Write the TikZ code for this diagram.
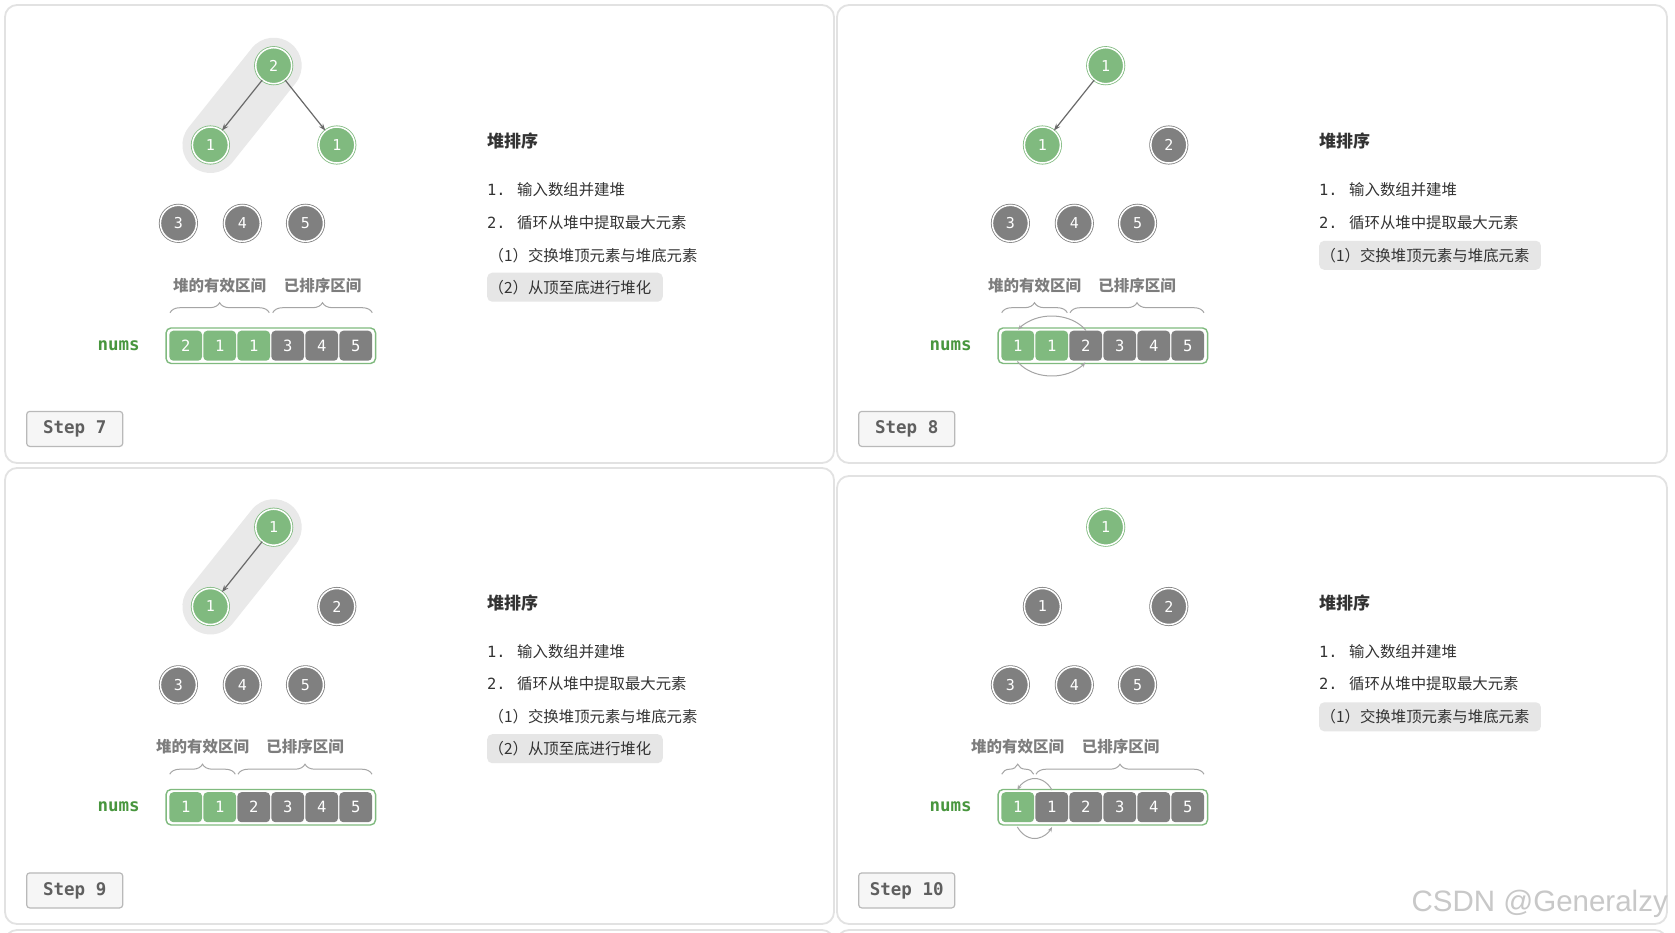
\documentclass[tikz,border=0pt]{standalone}
\usepackage{fontspec}
\usetikzlibrary{arrows.meta,decorations.pathreplacing,calc}
\newfontfamily\cjk{Noto Sans CJK SC}
\newfontfamily\mono{DejaVu Sans Mono}
\newfontfamily\wmfont{Liberation Sans}
\definecolor{hgreen}{RGB}{128,186,127}
\definecolor{hgray}{RGB}{128,128,128}
\definecolor{numsgreen}{RGB}{72,150,62}
\definecolor{panelline}{RGB}{226,226,226}
\definecolor{capsulecol}{RGB}{233,233,233}
\definecolor{hlbox}{RGB}{230,230,230}
\definecolor{textdark}{RGB}{51,51,51}
\definecolor{labelgray}{RGB}{125,125,125}
\definecolor{bracegray}{RGB}{165,165,165}
\definecolor{edgegray}{RGB}{105,105,105}
\definecolor{stepborder}{RGB}{185,185,185}
\definecolor{stepfill}{RGB}{246,246,246}
\definecolor{steptext}{RGB}{95,95,95}
\definecolor{wmgray}{RGB}{200,200,200}
\tikzset{
  panel/.style={draw=panelline, line width=1.8pt, rounded corners=12pt},
  gnode/.style={circle, minimum size=36pt, inner sep=0pt, fill=hgreen, draw=hgreen,
    double=white, double distance=1.5pt, line width=0.8pt, text=white,
    font=\mono\fontsize{15}{15}\selectfont},
  dnode/.style={gnode, fill=hgray, draw=hgray},
  treeedge/.style={draw=edgegray, line width=1.2pt, -{Stealth[length=7pt,width=5pt]}},
  capsuleline/.style={line width=56pt, line cap=round, draw=capsulecol},
  gcell/.style={rectangle, rounded corners=4pt, minimum width=32.7pt, minimum height=30pt,
    inner sep=0pt, fill=hgreen, text=white, font=\mono\fontsize{15.5}{15.5}\selectfont},
  dcell/.style={gcell, fill=hgray},
  arrbox/.style={draw=hgreen, line width=1.4pt, rounded corners=5pt, minimum width=209.5pt,
    minimum height=35.5pt, inner sep=0pt},
  numslabel/.style={text=numsgreen, font=\mono\bfseries\fontsize{17.5}{17.5}\selectfont, inner sep=0pt},
  bracestyle/.style={draw=bracegray, line width=1pt, decorate, decoration={brace, amplitude=10pt}},
  bracelabel/.style={text=labelgray, font=\cjk\bfseries\fontsize{15.5}{15.5}\selectfont, inner sep=0pt},
  swaparc/.style={draw=bracegray, line width=1pt, -{Stealth[length=5pt,width=4pt]}},
  titlestyle/.style={anchor=west, inner sep=0pt, text=textdark, font=\cjk\bfseries\fontsize{17}{17}\selectfont},
  itemstyle/.style={anchor=west, inner sep=0pt, text=textdark, font=\cjk\fontsize{15.4}{15.4}\selectfont},
  hlitem/.style={itemstyle, fill=hlbox, rounded corners=5pt, minimum height=29pt, inner xsep=1.5pt},
  stepbox/.style={rectangle, rounded corners=3pt, draw=stepborder, fill=stepfill, line width=1.2pt,
    minimum width=96pt, minimum height=35pt, inner sep=0pt, text=steptext,
    font=\mono\bfseries\fontsize{17.5}{17.5}\selectfont},
}
\begin{document}
\begin{tikzpicture}[x=1pt,y=-1pt]
\useasboundingbox (0,0) rectangle (1675,932);
\clip (0,0) rectangle (1675,932);
\fill[white] (0,0) rectangle (1675,932);
% panel frames
\draw[panel] (5,5) rectangle (834,463);
\draw[panel] (837,5) rectangle (1667,463);
\draw[panel] (5,468) rectangle (834,924);
\draw[panel] (837,476) rectangle (1667,924);
\draw[panel] (5,930) rectangle (834,1000);
\draw[panel] (837,930) rectangle (1667,1000);

% ================= Panel 1 (Step 7) =================
\begin{scope}
\coordinate (aR) at (273.7,65.7);
\coordinate (aL) at (210.4,145);
\draw[capsuleline] (aR) -- (aL);
\node[gnode] (aRn) at (aR) {2};
\node[gnode] (aLn) at (aL) {1};
\node[gnode] (aRt) at (336.8,145) {1};
\node[dnode] (aA) at (178.4,223.3) {3};
\node[dnode] (aB) at (242.3,223.3) {4};
\node[dnode] (aC) at (305.5,223.3) {5};
\draw[treeedge] (aRn) -- (aLn);
\draw[treeedge] (aRn) -- (aRt);
\node[bracelabel] (alab1) at (219.6,285.5) {堆的有效区间};
\node[bracelabel] (alab2) at (322.5,285.5) {已排序区间};
\draw[bracestyle] (170,312.7) -- (269.3,312.7);
\draw[bracestyle] (272.7,312.7) -- (372.3,312.7);
\node[numslabel] (anums) at (118.7,345.7) {nums};
\node[arrbox] (aArr) at (270.8,345.7) {};
\node[gcell] (ac1) at (185.7,345.7) {2};
\node[gcell] (ac2) at (219.7,345.7) {1};
\node[gcell] (ac3) at (253.7,345.7) {1};
\node[dcell] (ac4) at (287.7,345.7) {3};
\node[dcell] (ac5) at (321.7,345.7) {4};
\node[dcell] (ac6) at (355.7,345.7) {5};
\node[titlestyle] (atitle) at (487,141) {堆排序};
\node[itemstyle] (ai1) at (487,190) {\makebox[30pt][l]{\mono 1.}输入数组并建堆};
\node[itemstyle] (ai2) at (487,222.5) {\makebox[30pt][l]{\mono 2.}循环从堆中提取最大元素};
\node[itemstyle] (ai3) at (488.5,255.3) {（1）交换堆顶元素与堆底元素};
\node[hlitem] (ai4) at (487,287.2) {（2）从顶至底进行堆化\kern10pt\mbox{}};
\node[stepbox] (astep) at (74.7,428.9) {Step 7};
\end{scope}

% ================= Panel 2 (Step 8) =================
\begin{scope}[shift={(832,0)}]
\node[gnode] (bRn) at (273.7,65.7) {1};
\node[gnode] (bLn) at (210.4,145) {1};
\node[dnode] (bRt) at (336.8,145) {2};
\node[dnode] (bA) at (178.4,223.3) {3};
\node[dnode] (bB) at (242.3,223.3) {4};
\node[dnode] (bC) at (305.5,223.3) {5};
\draw[treeedge] (bRn) -- (bLn);
\node[bracelabel] (blab1) at (202.5,285.5) {堆的有效区间};
\node[bracelabel] (blab2) at (305,285.5) {已排序区间};
\draw[bracestyle] (169.7,312.7) -- (235.3,312.7);
\draw[bracestyle] (238,312.7) -- (372,312.7);
\node[numslabel] (bnums) at (118.7,345.7) {nums};
\node[arrbox] (bArr) at (270.8,345.7) {};
\node[gcell] (bc1) at (185.7,345.7) {1};
\node[gcell] (bc2) at (219.7,345.7) {1};
\node[dcell] (bc3) at (253.7,345.7) {2};
\node[dcell] (bc4) at (287.7,345.7) {3};
\node[dcell] (bc5) at (321.7,345.7) {4};
\node[dcell] (bc6) at (355.7,345.7) {5};
\coordinate (bS) at (219.7,346);
\draw[swaparc] ([shift={(31:40pt and 30pt)}]bS) arc[start angle=31, end angle=147, x radius=40pt, y radius=30pt];
\draw[swaparc] ([shift={(211:40pt and 30pt)}]bS) arc[start angle=211, end angle=327, x radius=40pt, y radius=30pt];
\node[titlestyle] (btitle) at (487,141) {堆排序};
\node[itemstyle] (bi1) at (487,190) {\makebox[30pt][l]{\mono 1.}输入数组并建堆};
\node[itemstyle] (bi2) at (487,222.5) {\makebox[30pt][l]{\mono 2.}循环从堆中提取最大元素};
\node[hlitem] (bi3) at (487,255.3) {（1）交换堆顶元素与堆底元素\kern10pt\mbox{}};
\node[stepbox] (bstep) at (74.7,428.9) {Step 8};
\end{scope}

% ================= Panel 3 (Step 9) =================
\begin{scope}[shift={(0,461.5)}]
\coordinate (cR) at (273.7,65.7);
\coordinate (cL) at (210.4,145);
\draw[capsuleline] (cR) -- (cL);
\node[gnode] (cRn) at (cR) {1};
\node[gnode] (cLn) at (cL) {1};
\node[dnode] (cRt) at (336.8,145) {2};
\node[dnode] (cA) at (178.4,223.3) {3};
\node[dnode] (cB) at (242.3,223.3) {4};
\node[dnode] (cC) at (305.5,223.3) {5};
\draw[treeedge] (cRn) -- (cLn);
\node[bracelabel] (clab1) at (202.5,285.5) {堆的有效区间};
\node[bracelabel] (clab2) at (305,285.5) {已排序区间};
\draw[bracestyle] (169.7,312.7) -- (235.3,312.7);
\draw[bracestyle] (238,312.7) -- (372,312.7);
\node[numslabel] (cnums) at (118.7,345.7) {nums};
\node[arrbox] (cArr) at (270.8,345.7) {};
\node[gcell] (cc1) at (185.7,345.7) {1};
\node[gcell] (cc2) at (219.7,345.7) {1};
\node[dcell] (cc3) at (253.7,345.7) {2};
\node[dcell] (cc4) at (287.7,345.7) {3};
\node[dcell] (cc5) at (321.7,345.7) {4};
\node[dcell] (cc6) at (355.7,345.7) {5};
\node[titlestyle] (ctitle) at (487,141) {堆排序};
\node[itemstyle] (ci1) at (487,190) {\makebox[30pt][l]{\mono 1.}输入数组并建堆};
\node[itemstyle] (ci2) at (487,222.5) {\makebox[30pt][l]{\mono 2.}循环从堆中提取最大元素};
\node[itemstyle] (ci3) at (488.5,255.3) {（1）交换堆顶元素与堆底元素};
\node[hlitem] (ci4) at (487,287.2) {（2）从顶至底进行堆化\kern10pt\mbox{}};
\node[stepbox] (cstep) at (74.7,428.9) {Step 9};
\end{scope}

% ================= Panel 4 (Step 10) =================
\begin{scope}[shift={(832,461.5)}]
\node[gnode] (dRn) at (273.7,65.7) {1};
\node[dnode] (dLn) at (210.4,145) {1};
\node[dnode] (dRt) at (336.8,145) {2};
\node[dnode] (dA) at (178.4,223.3) {3};
\node[dnode] (dB) at (242.3,223.3) {4};
\node[dnode] (dC) at (305.5,223.3) {5};
\node[bracelabel] (dlab1) at (185.5,285.5) {堆的有效区间};
\node[bracelabel] (dlab2) at (288.5,285.5) {已排序区间};
\draw[bracestyle] (169.7,312.7) -- (201.7,312.7);
\draw[bracestyle] (204,312.7) -- (372,312.7);
\node[numslabel] (dnums) at (118.7,345.7) {nums};
\node[arrbox] (dArr) at (270.8,345.7) {};
\node[gcell] (dc1) at (185.7,345.7) {1};
\node[dcell] (dc2) at (219.7,345.7) {1};
\node[dcell] (dc3) at (253.7,345.7) {2};
\node[dcell] (dc4) at (287.7,345.7) {3};
\node[dcell] (dc5) at (321.7,345.7) {4};
\node[dcell] (dc6) at (355.7,345.7) {5};
\coordinate (dS) at (202.7,347);
\draw[swaparc] ([shift={(38:22pt and 30pt)}]dS) arc[start angle=38, end angle=142, x radius=22pt, y radius=30pt];
\draw[swaparc] ([shift={(218:22pt and 30pt)}]dS) arc[start angle=218, end angle=322, x radius=22pt, y radius=30pt];
\node[titlestyle] (dtitle) at (487,141) {堆排序};
\node[itemstyle] (di1) at (487,190) {\makebox[30pt][l]{\mono 1.}输入数组并建堆};
\node[itemstyle] (di2) at (487,222.5) {\makebox[30pt][l]{\mono 2.}循环从堆中提取最大元素};
\node[hlitem] (di3) at (487,255.3) {（1）交换堆顶元素与堆底元素\kern10pt\mbox{}};
\node[stepbox] (dstep) at (74.7,428.9) {Step 10};
\end{scope}

% watermark
\node[anchor=base east, inner sep=0pt, text=wmgray, font=\wmfont\fontsize{29.5}{29.5}\selectfont] (wm) at (1668,911) {CSDN @Generalzy};
\end{tikzpicture}
\end{document}
